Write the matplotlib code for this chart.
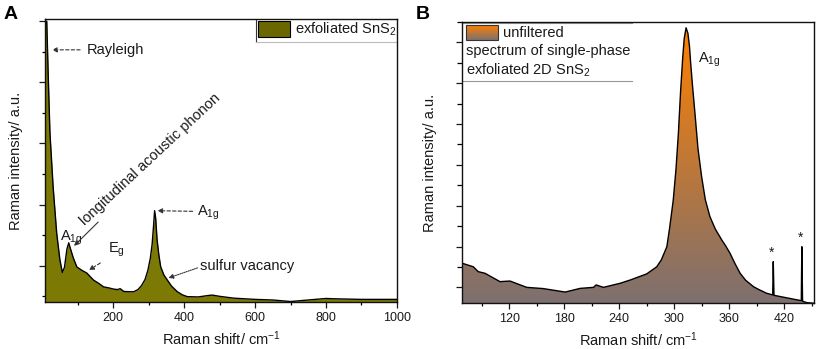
import numpy as np
import matplotlib.pyplot as plt
from matplotlib.patches import Rectangle
from matplotlib.lines import Line2D

plt.rcParams['font.family'] = ['Liberation Sans', 'DejaVu Sans']
plt.rcParams['mathtext.fontset'] = 'custom'
plt.rcParams['mathtext.rm'] = 'Liberation Sans'
plt.rcParams['mathtext.it'] = 'Liberation Sans'

# panel A: exfoliated SnS2, full range
shift_a = [8, 13, 17, 22, 31, 41, 50, 57, 63, 70, 75, 80, 88, 98, 112, 126, 135, 145,
           160, 173, 190, 200, 212, 220, 230, 245, 258, 270, 280, 290, 298, 305, 310,
           314, 317, 320, 324, 329, 334, 343, 353, 365, 381, 395, 409, 440, 470, 480,
           500, 540, 600, 650, 700, 750, 800, 820, 900, 1000]
inten_a = [8.9, 9.0, 7.3, 5.35, 3.58, 2.07, 1.2, 0.78, 0.95, 1.55, 1.75, 1.55, 1.25, 0.96,
           0.85, 0.76, 0.65, 0.53, 0.42, 0.31, 0.27, 0.24, 0.22, 0.25, 0.16, 0.15, 0.15,
           0.22, 0.35, 0.55, 0.85, 1.25, 1.7, 2.3, 2.8, 2.55, 1.84, 1.35, 0.97, 0.7, 0.53,
           0.33, 0.15, 0.05, -0.01, -0.02, 0.03, 0.04, 0.0, -0.06, -0.1, -0.12, -0.17,
           -0.12, -0.07, -0.08, -0.1, -0.1]

# panel B: unfiltered spectrum of single-phase exfoliated 2D SnS2
shift_b = [68.6, 80.6, 86, 93.4, 109.8, 120.7, 139, 157, 181, 197.3, 212, 214.7, 222.7,
           241, 252, 270, 281, 286, 292, 295, 299, 302, 304.6, 307, 309.4, 311, 313,
           315, 316.7, 318, 320, 323, 326, 330, 334, 339, 345, 352, 356, 361, 366, 372,
           378, 386.7, 393, 401, 407.6, 408.2, 409.0, 430.5, 438.8, 439.4, 440.2, 445, 453]
inten_b = [1.18, 1.01, 0.77, 0.69, 0.28, 0.31, 0.0, -0.06, -0.23, -0.05, 0.0, 0.12, 0.0,
           0.2, 0.36, 0.66, 1.01, 1.35, 1.99, 2.9, 4.28, 5.8, 7.55, 9.6, 11.3, 12.2, 12.72,
           12.45, 11.82, 11.0, 9.9, 8.37, 6.8, 5.42, 4.3, 3.47, 2.85, 2.32, 2.05, 1.67, 1.2,
           0.69, 0.35, 0.03, -0.12, -0.29, -0.37, 1.26, -0.39, -0.58, -0.65, 1.99, -0.68,
           -0.75, -0.78]

text_c = '#1a1a1a'
olive = '#7c7905'

fig = plt.figure(figsize=(8.16, 3.49), dpi=100)
ax1 = fig.add_axes([0.0551, 0.1347, 0.4314, 0.811])
ax2 = fig.add_axes([0.5665, 0.131, 0.4314, 0.807])

for ax in (ax1, ax2):
    ax.tick_params(axis='both', direction='out', labelsize=9, colors=text_c,
                   width=0.9, length=4, pad=3)
    ax.tick_params(which='minor', direction='out', width=0.9, length=2.5)
    ax.tick_params(axis='y', labelleft=False)
    for s in ax.spines.values():
        s.set_linewidth(1.0)
        s.set_color('#111111')

# ---- panel A
ax1.set_xlim(8, 1000)
ax1.set_ylim(-0.185, 9.07)
ax1.fill_between(shift_a, inten_a, -0.185, color=olive, lw=0)
ax1.plot(shift_a, inten_a, color='black', lw=1.0)
ax1.set_xticks([200, 400, 600, 800, 1000])
ax1.set_xticks([100, 300, 500, 700, 900], minor=True)
ax1.set_yticks([1, 3, 5, 7, 9])
ax1.set_yticks([0, 2, 4, 6, 8], minor=True)
ax1.set_xlabel('Raman shift/ cm$^{-1}$', fontsize=10.5, color=text_c, labelpad=4)
ax1.set_ylabel('Raman intensity/ a.u.', fontsize=10.5, color=text_c, labelpad=10)

# legend A
ax1.add_patch(Rectangle((0.605, 0.936), 0.091, 0.057, transform=ax1.transAxes,
                        facecolor='#6a6700', edgecolor='black', lw=0.8))
ax1.text(0.71, 0.963, 'exfoliated SnS$_2$', transform=ax1.transAxes, fontsize=10.5,
         color=text_c, va='center', ha='left')
ax1.add_line(Line2D([0.599, 0.599], [0.919, 1.0], transform=ax1.transAxes,
                    color='#333333', lw=0.8))
ax1.add_line(Line2D([0.599, 1.0], [0.919, 0.919], transform=ax1.transAxes,
                    color='#bbbbbb', lw=0.8))

dash = dict(arrowstyle='-|>', color='#333333', lw=0.8, linestyle=(0, (3, 2)),
            mutation_scale=7, shrinkA=0, shrinkB=0)
ax1.annotate('', xy=(28, 8.06), xytext=(107, 8.06), arrowprops=dash)
ax1.text(127, 8.06, 'Rayleigh', fontsize=10.5, color=text_c, va='center')
ax1.text(50, 1.91, 'A$_{1g}$', fontsize=10.5, color=text_c, va='center')
ax1.text(122, 2.3, 'longitudinal acoustic phonon', fontsize=10.5, color=text_c,
         rotation=43, rotation_mode='anchor', va='baseline', ha='left')
ax1.annotate('', xy=(90, 1.65), xytext=(158, 2.43),
             arrowprops=dict(arrowstyle='-|>', color='#333333', lw=0.8,
                             mutation_scale=7, shrinkA=0, shrinkB=0))
ax1.text(186, 1.52, 'E$_g$', fontsize=10.5, color=text_c, va='center')
ax1.annotate('', xy=(132, 0.86), xytext=(164, 1.09), arrowprops=dash)
ax1.text(436, 2.73, 'A$_{1g}$', fontsize=10.5, color=text_c, va='center')
ax1.annotate('', xy=(325, 2.8), xytext=(424, 2.78), arrowprops=dash)
ax1.text(444, 0.99, 'sulfur vacancy', fontsize=10.5, color=text_c, va='center')
dot = dict(dash)
dot['linestyle'] = (0, (1, 1))
ax1.annotate('', xy=(356, 0.6), xytext=(438, 0.93), arrowprops=dot)

fig.text(0.004, 0.945, 'A', fontsize=14, fontweight='bold', color='black')

# ---- panel B
ymin_b, ymax_b = -0.78, 13.02
ax2.set_xlim(68.6, 453)
ax2.set_ylim(ymin_b, ymax_b)
poly = ax2.fill(list(shift_b) + [shift_b[-1], shift_b[0]],
                list(inten_b) + [ymin_b, ymin_b], facecolor='none', lw=0)[0]
bot = np.array([125, 112, 112]) / 255
top = np.array([255, 128, 0]) / 255
t = np.linspace(0, 1, 256)[:, None]
grad = (bot + (top - bot) * t)[:, None, :].repeat(2, axis=1)
im = ax2.imshow(grad, origin='lower', aspect='auto',
                extent=[68.6, 453, ymin_b, 12.8], zorder=1)
im.set_clip_path(poly)
ax2.plot(shift_b, inten_b, color='black', lw=1.0, zorder=2)
ax2.set_xticks([120, 180, 240, 300, 360, 420])
ax2.set_xticks([90, 150, 210, 270, 330, 390, 450], minor=True)
ax2.set_yticks([0, 2, 4, 6, 8, 10, 12])
ax2.set_yticks([1, 3, 5, 7, 9, 11, 13], minor=True)
ax2.tick_params(which='minor', axis='y', length=3.5)
ax2.set_xlabel('Raman shift/ cm$^{-1}$', fontsize=10.5, color=text_c, labelpad=4)
ax2.set_ylabel('Raman intensity/ a.u.', fontsize=10.5, color=text_c, labelpad=11)

ax2.text(326.2, 11.14, 'A$_{1g}$', fontsize=10.5, color=text_c, va='center')
ax2.text(406, 1.68, '*', fontsize=10, color=text_c, ha='center', va='center')
ax2.text(437.6, 2.42, '*', fontsize=10, color=text_c, ha='center', va='center')

# legend B
lg = ax2.imshow(grad, origin='lower', aspect='auto', transform=ax2.transAxes,
                extent=[0.0105, 0.101, 0.935, 0.988], zorder=3)
ax2.add_patch(Rectangle((0.0105, 0.935), 0.0905, 0.053, transform=ax2.transAxes,
                        facecolor='none', edgecolor='#333333', lw=0.8, zorder=4))
ax2.text(0.116, 0.96, 'unfiltered', transform=ax2.transAxes, fontsize=10.5,
         color=text_c, va='center')
ax2.text(0.0105, 0.894, 'spectrum of single-phase', transform=ax2.transAxes,
         fontsize=10.5, color=text_c, va='center')
ax2.text(0.0105, 0.826, 'exfoliated 2D SnS$_2$', transform=ax2.transAxes,
         fontsize=10.5, color=text_c, va='center')
ax2.add_line(Line2D([0, 0.481], [0.996, 0.996], transform=ax2.transAxes,
                    color='#999999', lw=0.8))
ax2.add_line(Line2D([0, 0.481], [0.788, 0.788], transform=ax2.transAxes,
                    color='#999999', lw=0.8))

fig.text(0.509, 0.945, 'B', fontsize=14, fontweight='bold', color='black')

fig.savefig('out.png', dpi=100)
